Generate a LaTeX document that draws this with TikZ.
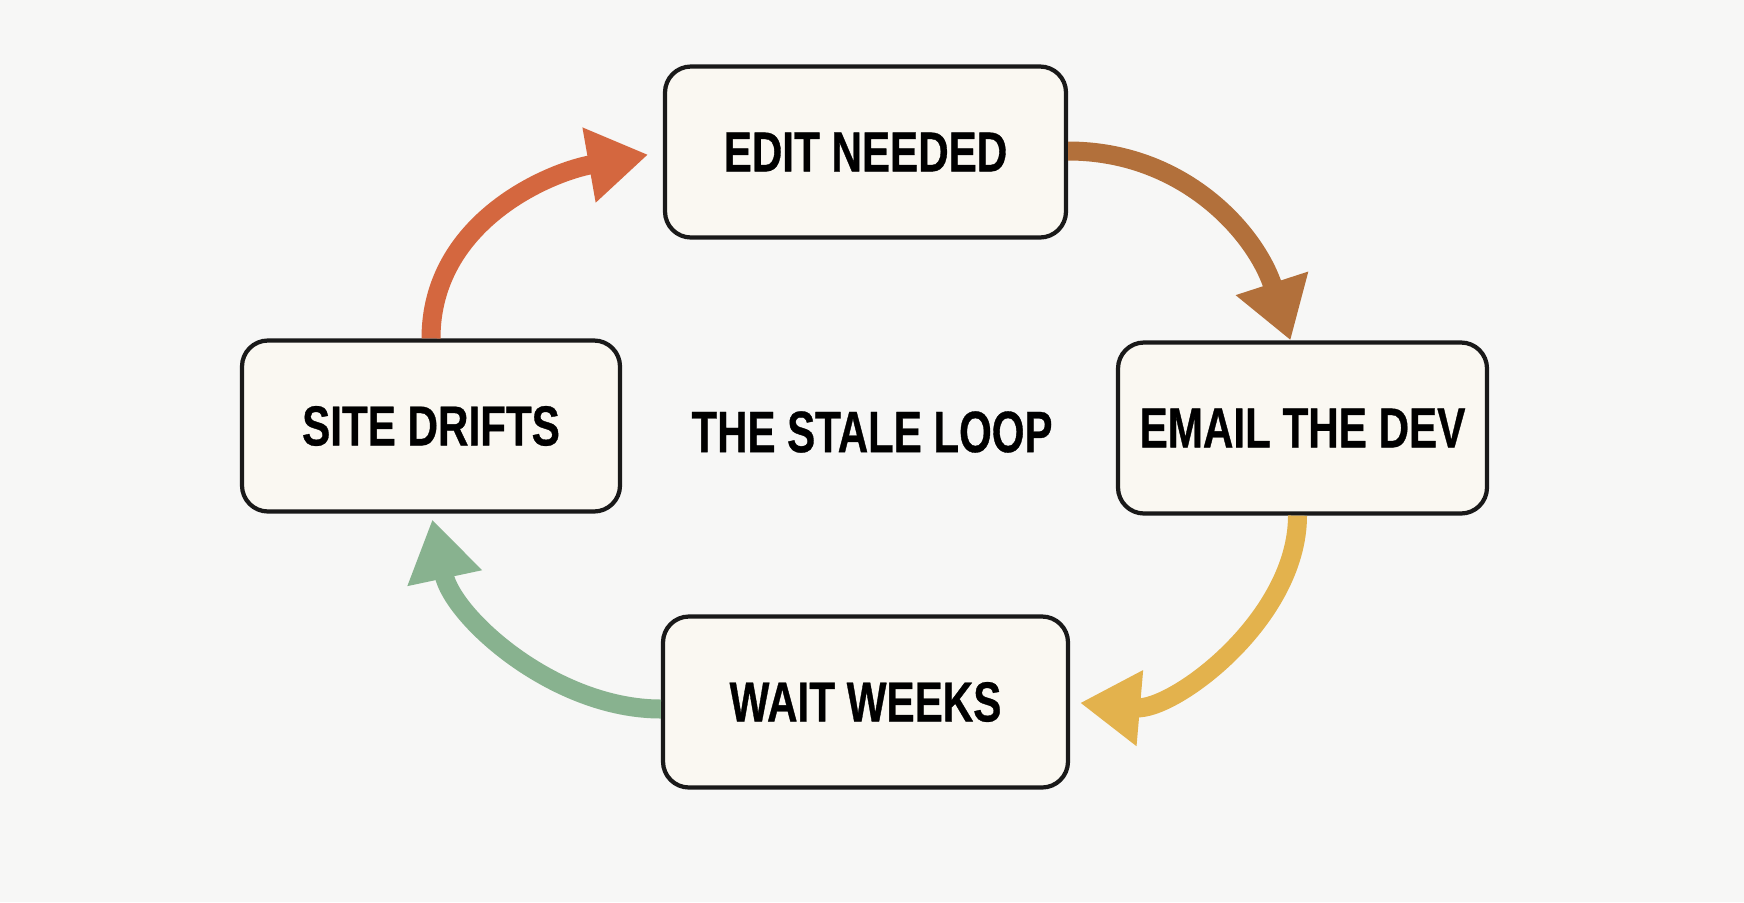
\documentclass[tikz,border=0pt]{standalone}
\usepackage{fontspec}
\newfontfamily\boxfont{Liberation Sans}[FakeStretch=0.75, FakeBold=0.6]
\newfontfamily\titlefont{Liberation Sans}[FakeStretch=0.72, FakeBold=0.6]
\usetikzlibrary{arrows.meta}
\definecolor{bgcol}{HTML}{F7F7F6}
\definecolor{boxfill}{HTML}{FAF8F2}
\definecolor{redarr}{HTML}{D4673F}
\definecolor{brownarr}{HTML}{B2703B}
\definecolor{yellowarr}{HTML}{E3B24D}
\definecolor{greenarr}{HTML}{88B28F}

\begin{document}
\begin{tikzpicture}[stage/.style={draw=black!90, line width=1.2pt, fill=boxfill,
    rounded corners=0.26cm, minimum height=1.71cm, inner sep=0pt,
    font=\boxfont\bfseries\fontsize{16}{19}\selectfont},
    flow/.style={line width=0.19cm, -{Triangle[length=0.6cm, width=0.72cm]}}]
  \fill[bgcol] (0,0) rectangle (17.44,9.02);%
  \useasboundingbox (0,0) rectangle (17.44,9.02);%
  \node[stage, minimum width=4.01cm] (edit) at (8.655,7.50) {EDIT NEEDED};%
  \node[stage, minimum width=3.78cm] (site) at (4.31,4.76) {SITE DRIFTS};%
  \node[stage, minimum width=3.69cm] (email) at (13.025,4.74) {EMAIL THE DEV};%
  \node[stage, minimum width=4.05cm] (wait) at (8.655,2.00) {WAIT WEEKS};%
  \node[font=\titlefont\bfseries\fontsize{16.6}{20}\selectfont] (title) at (8.72,4.70) {THE STALE LOOP};%
  % the four steps of the loop
  \draw[flow, redarr, shorten >=0.15cm] (site.north) to[out=90, in=190] (edit.west);
  \draw[flow, brownarr] ([yshift=0.01cm]edit.east) to[out=0, in=108] ([xshift=-0.12cm]email.north);
  \draw[flow, yellowarr, shorten >=0.1cm] ([xshift=-0.05cm]email.south) to[out=-90, in=-5, looseness=0.9] (wait.east);
  \draw[flow, greenarr, shorten >=0.06cm] ([yshift=-0.07cm]wait.west) to[out=180, in=-78, looseness=0.9] (site.south);
\end{tikzpicture}
\end{document}
